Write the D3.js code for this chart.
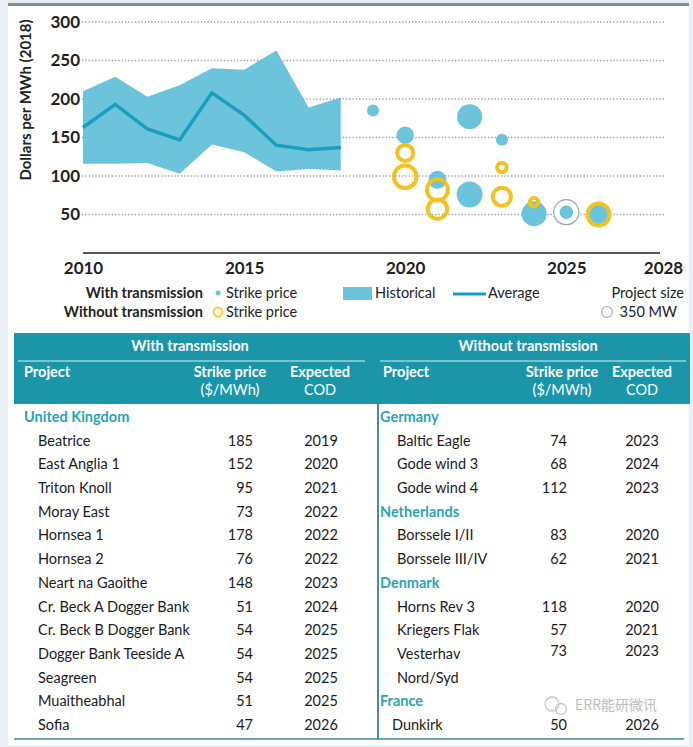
<!DOCTYPE html>
<html>
<head>
<meta charset="utf-8">
<script src="https://cdn.jsdelivr.net/npm/d3@7"></script>
<style>
  body { margin: 0; background: #fff; }
  svg { display: block; font-family: Lato, "Open Sans", sans-serif; }
</style>
</head>
<body>
<svg id="chart" width="693" height="747"></svg>
<script>
const width = 693;
const height = 747;

// Historical range (with transmission), 2010-2018
const histYears = [2010, 2011, 2012, 2013, 2014, 2015, 2016, 2017, 2018];
const histUpper = [210, 229, 203, 218, 240, 238, 263, 189, 202];
const histLower = [116, 116, 117, 103, 141, 131, 106, 109, 107];
const histAvg = [163, 193, 161, 147, 208, 179, 140, 134, 137];

// Strike price bubbles (year, $/MWh, MW)
const withTxBubbles = [
    { year: 2019, price: 185, mw: 260 },
    { year: 2020, price: 153, mw: 540 },
    { year: 2021, price: 95, mw: 580 },
    { year: 2022, price: 177, mw: 1120 },
    { year: 2022, price: 76, mw: 1200 },
    { year: 2023, price: 147, mw: 260 },
    { year: 2024, price: 51, mw: 1120 },
    { year: 2025, price: 53, mw: 320 },
    { year: 2026, price: 50, mw: 1030 }
];
const withoutTxBubbles = [
    { year: 2020, price: 130, mw: 460 },
    { year: 2020, price: 99, mw: 910 },
    { year: 2021, price: 82, mw: 790 },
    { year: 2021, price: 57, mw: 670 },
    { year: 2023, price: 111, mw: 160 },
    { year: 2023, price: 73, mw: 580 },
    { year: 2024, price: 66, mw: 130 },
    { year: 2026, price: 50, mw: 860 }
];
const sizeRefBubble = [{ year: 2025, price: 53, mw: 1120 }];

const yTicks = [50, 100, 150, 200, 250, 300];
const xTicks = [2010, 2015, 2020, 2025, 2028];

// Table rows: [name, price, cod]; a single entry is a country heading
const withTxRows = [
    ["United Kingdom"],
    ["Beatrice", 185, 2019],
    ["East Anglia 1", 152, 2020],
    ["Triton Knoll", 95, 2021],
    ["Moray East", 73, 2022],
    ["Hornsea 1", 178, 2022],
    ["Hornsea 2", 76, 2022],
    ["Neart na Gaoithe", 148, 2023],
    ["Cr. Beck A Dogger Bank", 51, 2024],
    ["Cr. Beck B Dogger Bank", 54, 2025],
    ["Dogger Bank Teeside A", 54, 2025],
    ["Seagreen", 54, 2025],
    ["Muaitheabhal", 51, 2025],
    ["Sofia", 47, 2026]
];
const withoutTxRows = [
    ["Germany"],
    ["Baltic Eagle", 74, 2023],
    ["Gode wind 3", 68, 2024],
    ["Gode wind 4", 112, 2023],
    ["Netherlands"],
    ["Borssele I/II", 83, 2020],
    ["Borssele III/IV", 62, 2021],
    ["Denmark"],
    ["Horns Rev 3", 118, 2020],
    ["Kriegers Flak", 57, 2021],
    ["Vesterhav", 73, 2023],
    ["Nord/Syd", null, null],
    ["France"],
    ["Dunkirk", 50, 2026]
];

const blue = '#6cc4dc';
const teal = '#1b96a8';
const avgColor = '#1a9ec0';
const yellow = '#f1c320';

const svg = d3.select('#chart');

// page frame
svg.append('rect').attr('width', width).attr('height', height).attr('fill', '#e9eff5');
svg.append('rect').attr('x', 8).attr('y', 6).attr('width', 681).attr('height', 739).attr('fill', '#fff');
svg.append('rect').attr('x', 8).attr('y', 3).attr('width', 681).attr('height', 3).attr('fill', '#8a8d90');

// scales
const xScale = d3.scaleLinear().domain([2010, 2028]).range([83, 663]);
const yScale = d3.scaleLinear().domain([0, 300]).range([253, 22]);
const rScale = d3.scaleSqrt().domain([0, 1400]).range([0, 14]);

// gridlines
svg.append('g')
    .selectAll('line')
    .data(yTicks)
    .enter().append('line')
    .attr('x1', 82).attr('x2', 664)
    .attr('y1', d => yScale(d)).attr('y2', d => yScale(d))
    .attr('stroke', '#9a9a9a')
    .attr('stroke-width', 1.3)
    .attr('stroke-dasharray', '1.3,2');

// y axis labels
const yAxis = d3.axisLeft(yScale).tickValues(yTicks).tickSize(0).tickPadding(0);
const yG = svg.append('g')
    .attr('transform', 'translate(80,0)')
    .call(yAxis);
yG.select('.domain').remove();
yG.selectAll('text')
    .attr('font-family', 'Lato, sans-serif')
    .attr('font-size', 17)
    .attr('font-weight', 'bold')
    .attr('fill', '#222');

svg.append('text')
    .attr('transform', 'translate(31,100) rotate(-90)')
    .attr('text-anchor', 'middle')
    .attr('font-size', 15)
    .attr('font-weight', 'bold')
    .attr('fill', '#222')
    .text('Dollars per MWh (2018)');

// x axis
const xAxis = d3.axisBottom(xScale).tickValues(xTicks).tickFormat(d3.format('d')).tickSize(0).tickPadding(9);
const xG = svg.append('g')
    .attr('transform', `translate(0,${yScale(0)})`)
    .call(xAxis);
xG.select('.domain')
    .attr('d', `M${xScale(2010)},0H${xScale(2028) - 3}`)
    .attr('stroke', '#555')
    .attr('stroke-width', 2.2);
xG.selectAll('text')
    .attr('font-family', 'Lato, sans-serif')
    .attr('font-size', 17)
    .attr('font-weight', 'bold')
    .attr('fill', '#222');

// historical band
const hist = histYears.map((y, i) => ({ year: y, lo: histLower[i], hi: histUpper[i], avg: histAvg[i] }));
svg.append('path')
    .datum(hist)
    .attr('fill', blue)
    .attr('d', d3.area().x(d => xScale(d.year)).y0(d => yScale(d.lo)).y1(d => yScale(d.hi)));
svg.append('path')
    .datum(hist)
    .attr('fill', 'none')
    .attr('stroke', avgColor)
    .attr('stroke-width', 3.5)
    .attr('d', d3.line().x(d => xScale(d.year)).y(d => yScale(d.avg)));

// bubbles
svg.append('g').selectAll('circle')
    .data(sizeRefBubble)
    .enter().append('circle')
    .attr('cx', d => xScale(d.year)).attr('cy', d => yScale(d.price))
    .attr('r', d => rScale(d.mw))
    .attr('fill', '#fff')
    .attr('stroke', '#9aa3a8')
    .attr('stroke-width', 1.2);

svg.append('g').selectAll('circle')
    .data(withTxBubbles)
    .enter().append('circle')
    .attr('cx', d => xScale(d.year)).attr('cy', d => yScale(d.price))
    .attr('r', d => rScale(d.mw))
    .attr('fill', blue);

svg.append('g').selectAll('circle')
    .data(withoutTxBubbles)
    .enter().append('circle')
    .attr('cx', d => xScale(d.year)).attr('cy', d => yScale(d.price))
    .attr('r', d => rScale(d.mw))
    .attr('fill', 'none')
    .attr('stroke', yellow)
    .attr('stroke-width', 4);

// legend
const legend = svg.append('g').attr('font-size', 14.5).attr('fill', '#222');
legend.append('text').attr('x', 203).attr('y', 298).attr('text-anchor', 'end').attr('font-weight', 'bold').text('With transmission');
legend.append('text').attr('x', 203).attr('y', 317).attr('text-anchor', 'end').attr('font-weight', 'bold').text('Without transmission');
legend.append('circle').attr('cx', 218).attr('cy', 293).attr('r', 2.5).attr('fill', blue);
legend.append('text').attr('x', 226).attr('y', 298).text('Strike price');
legend.append('circle').attr('cx', 218).attr('cy', 312).attr('r', 4.5).attr('fill', '#fff8d8').attr('stroke', yellow).attr('stroke-width', 1.5);
legend.append('text').attr('x', 226).attr('y', 317).text('Strike price');
legend.append('rect').attr('x', 343).attr('y', 287).attr('width', 29).attr('height', 13).attr('fill', blue);
legend.append('text').attr('x', 375).attr('y', 298).text('Historical');
legend.append('line').attr('x1', 453).attr('x2', 486).attr('y1', 294).attr('y2', 294).attr('stroke', avgColor).attr('stroke-width', 3);
legend.append('text').attr('x', 488).attr('y', 298).text('Average');
legend.append('text').attr('x', 684).attr('y', 298).attr('text-anchor', 'end').text('Project  size');
legend.append('circle').attr('cx', 607).attr('cy', 312).attr('r', 5.5).attr('fill', '#fff').attr('stroke', '#aaa').attr('stroke-width', 1.2);
legend.append('text').attr('x', 677).attr('y', 317).attr('text-anchor', 'end').text('350 MW');

// table header
const table = svg.append('g');
table.append('rect').attr('x', 14).attr('y', 333).attr('width', 676).attr('height', 71).attr('fill', teal);
table.append('line').attr('x1', 18).attr('x2', 365).attr('y1', 361).attr('y2', 361).attr('stroke', '#dff0f3').attr('stroke-width', 1.2);
table.append('line').attr('x1', 380).attr('x2', 686).attr('y1', 361).attr('y2', 361).attr('stroke', '#dff0f3').attr('stroke-width', 1.2);

const head = table.append('g').attr('fill', '#fff').attr('font-size', 14.5).attr('font-weight', 'bold');
head.append('text').attr('x', 190).attr('y', 351).attr('text-anchor', 'middle').text('With transmission');
head.append('text').attr('x', 528).attr('y', 351).attr('text-anchor', 'middle').text('Without transmission');
const subHeads = [
    { x: 24, anchor: 'start', lines: ['Project'] },
    { x: 230, anchor: 'middle', lines: ['Strike price', '($/MWh)'] },
    { x: 320, anchor: 'middle', lines: ['Expected', 'COD'] },
    { x: 383, anchor: 'start', lines: ['Project'] },
    { x: 562, anchor: 'middle', lines: ['Strike price', '($/MWh)'] },
    { x: 642, anchor: 'middle', lines: ['Expected', 'COD'] }
];
subHeads.forEach(h => {
    h.lines.forEach((l, i) => {
        head.append('text')
            .attr('x', h.x).attr('y', 377 + i * 18)
            .attr('text-anchor', h.anchor)
            .attr('font-weight', i === 0 || h.lines.length === 1 ? 'bold' : 'normal')
            .text(l);
    });
});

// body divider and bottom rule
table.append('line').attr('x1', 378).attr('x2', 378).attr('y1', 404).attr('y2', 739).attr('stroke', '#1d6f7d').attr('stroke-width', 1.6);
table.append('line').attr('x1', 14).attr('x2', 684).attr('y1', 739).attr('y2', 739).attr('stroke', '#2a8f9f').attr('stroke-width', 1.6);

const rowY = d3.scaleLinear().domain([0, 13]).range([417, 725]);

function drawRows(rows, xName, xHead, xPrice, xCod) {
    const g = table.append('g').attr('font-size', 14.5).attr('fill', '#1a1a1a');
    rows.forEach((r, i) => {
        const y = rowY(i) + 5;
        if (r.length === 1) {
            g.append('text').attr('x', xHead).attr('y', y)
                .attr('font-weight', 'bold').attr('fill', '#2aa3b4').text(r[0]);
            return;
        }
        const nx = (r[0] === 'Dunkirk') ? xName - 5 : xName;
        g.append('text').attr('x', nx).attr('y', y).text(r[0]);
        if (r[1] != null) {
            const ty = r[0] === 'Vesterhav' ? y - 3 : y;
            g.append('text').attr('x', xPrice).attr('y', ty).attr('text-anchor', 'end').text(r[1]);
            g.append('text').attr('x', xCod).attr('y', ty).attr('text-anchor', 'middle').text(r[2]);
        }
    });
}
drawRows(withTxRows, 38, 24, 253, 321);
drawRows(withoutTxRows, 397, 380, 567, 642);

// watermark
const wm = svg.append('g').attr('opacity', 0.55);
wm.append('circle').attr('cx', 552).attr('cy', 704).attr('r', 7).attr('fill', 'none').attr('stroke', '#999').attr('stroke-width', 1.3);
wm.append('circle').attr('cx', 561).attr('cy', 709).attr('r', 5.5).attr('fill', 'none').attr('stroke', '#999').attr('stroke-width', 1.3);
wm.append('text').attr('x', 575).attr('y', 710).attr('font-size', 14)
    .attr('font-family', '"Noto Sans CJK SC", sans-serif').attr('fill', '#888')
    .text('ERR能研微讯');
</script>
</body>
</html>
